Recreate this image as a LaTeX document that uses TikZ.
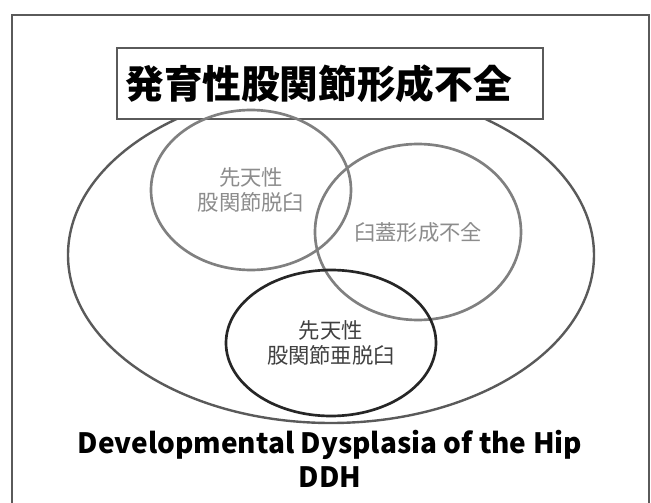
\documentclass[tikz,border=0pt]{standalone}
\usepackage{fontspec}
\setmainfont{Noto Sans CJK JP}
\usetikzlibrary{shapes.geometric}
\definecolor{ringgray}{RGB}{128,128,128}
\definecolor{labelgray}{RGB}{140,140,140}
\definecolor{outergray}{RGB}{90,90,90}
\definecolor{darkring}{RGB}{38,38,38}

\begin{document}
\begin{tikzpicture}[x=0.75pt, y=-0.75pt,
		ring/.style={ellipse, draw=ringgray, line width=2pt, text=labelgray, align=center, inner sep=0pt, font=\fontsize{16}{19}\selectfont},
		ringdark/.style={ring, draw=darkring, text=black!75}]
					\useasboundingbox[fill=white] (0,0) rectangle (651,503);
					\draw[outergray, line width=0.8pt] (12,15) rectangle (649,520);
					% outer set
					\node[ellipse, draw=outergray, line width=1.8pt, minimum width=394.5pt, minimum height=252pt] (ddh) at (331,255) {};
					\node[draw=outergray, fill=white, line width=2pt, minimum width=319.5pt, minimum height=53.25pt, text width=307pt, align=left, font=\fontsize{29}{33}\selectfont\bfseries] (title) at (330,83.5) {発育性股関節形成不全};
					% inner sets
					\node[ring, minimum width=150pt, minimum height=120pt] (luxation) at (251,190) {先天性\\股関節脱臼};
					\node[ring, minimum width=154.5pt, minimum height=132pt] (acetab) at (418,232) {臼蓋形成不全};
					\node[ringdark, minimum width=157.5pt, minimum height=109.5pt] (subluxation) at (331,343) {先天性\\股関節亜脱臼};
					\node[align=center, font=\fontsize{21}{26}\selectfont\bfseries] (caption) at (330,459) {Developmental Dysplasia of the Hip\\DDH};
				\end{tikzpicture}
\end{document}
